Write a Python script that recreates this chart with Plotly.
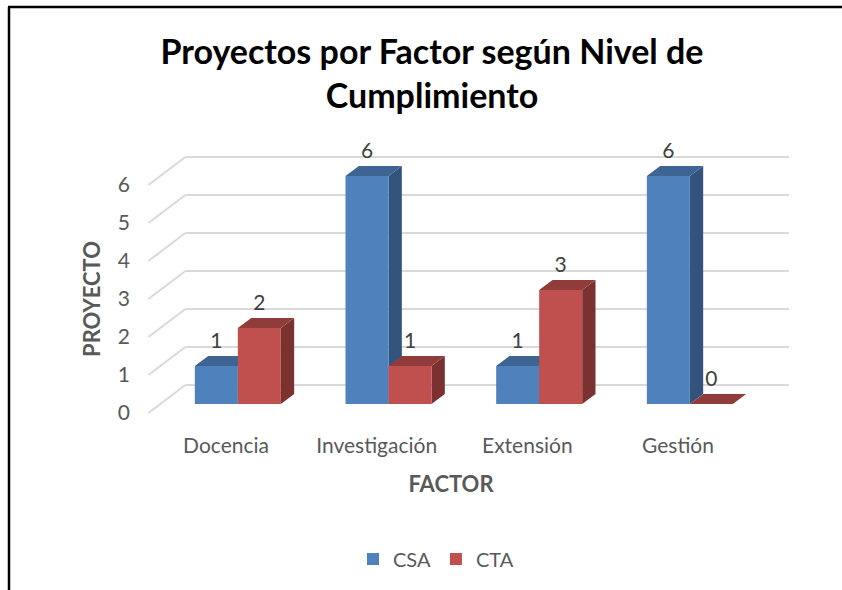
import plotly.graph_objects as go

# ---------------- data ----------------
categories = ["Docencia", "Investigación", "Extensión", "Gestión"]
series_names = ["CSA", "CTA"]
csa_values = [1, 6, 1, 6]
cta_values = [2, 1, 3, 0]
y_tick_values = [0, 1, 2, 3, 4, 5, 6]

title_text = "Proyectos por Factor según Nivel de<br>Cumplimiento"
x_title = "FACTOR"
y_title = "PROYECTO"

# ---------------- styling / layout constants ----------------
FONT = "Lato, Carlito, Calibri, 'Noto Sans', sans-serif"
W, H = 842, 590
L, R, T, B = 112, 790, 140, 458            # plot area in px
X_PX0, X_PX_PER = 226.0, 150.67            # px of category 0 on the front plane, px per category
Y_PX0, Y_PX_PER = 413.0, 38.0              # px of value 0 on the front plane, px per unit

x_range = [(L - X_PX0) / X_PX_PER, (R - X_PX0) / X_PX_PER]
y_range = [(Y_PX0 - B) / Y_PX_PER, (Y_PX0 - T) / Y_PX_PER]

# oblique projection of the depth axis (full floor depth)
DX = 37.0 / X_PX_PER
DY = 28.0 / Y_PX_PER
D_FRONT, D_BACK = 0.32, 0.68               # depth of bar front/back faces
BAR_W = 43.0 / X_PX_PER
FLOOR_L, FLOOR_R = -0.515, 3.49
LABEL_GAP = 13.0 / Y_PX_PER

front_colors = ["#4F81BD", "#C0504D"]
top_colors = ["#3D6492", "#903C3A"]
side_colors = ["#33537D", "#7B312F"]
grid_color = "#D9D9D9"
text_gray = "#595959"

series_values = [csa_values, cta_values]

def px_to_paper_x(px):
    return (px - L) / (R - L)

def px_to_paper_y(py):
    return (B - py) / (B - T)

fig = go.Figure()

sx = DX * D_FRONT
sy = DY * D_FRONT
ddx = DX * (D_BACK - D_FRONT)
ddy = DY * (D_BACK - D_FRONT)

# front faces as bars
for s, (name, vals) in enumerate(zip(series_names, series_values)):
    fig.add_trace(go.Bar(
        name=name,
        x=[i + sx for i in range(len(categories))],
        y=vals,
        base=[sy] * len(vals),
        width=BAR_W,
        offset=(s - 1) * BAR_W,
        marker=dict(color=front_colors[s], line=dict(width=0)),
        hovertext=categories,
    ))

shapes = []
# back wall grid + left wall diagonals
for v in y_tick_values:
    shapes.append(dict(type="line", xref="x", yref="y", layer="below",
                       x0=FLOOR_L + DX, y0=v + DY, x1=FLOOR_R + DX, y1=v + DY,
                       line=dict(color=grid_color, width=2)))
    shapes.append(dict(type="line", xref="x", yref="y", layer="below",
                       x0=FLOOR_L, y0=v, x1=FLOOR_L + DX, y1=v + DY,
                       line=dict(color=grid_color, width=2)))

def poly(pts):
    return "M " + " L ".join(f"{x},{y}" for x, y in pts) + " Z"

# side and top faces
label_x, label_y, label_t = [], [], []
for i in range(len(categories)):
    for s, vals in enumerate(series_values):
        v = vals[i]
        x0 = i + sx + (s - 1) * BAR_W
        x1 = x0 + BAR_W
        yb = sy
        yt = sy + v
        if v > 0:
            shapes.append(dict(type="path", xref="x", yref="y", layer="below",
                               path=poly([(x1, yb), (x1, yt), (x1 + ddx, yt + ddy), (x1 + ddx, yb + ddy)]),
                               fillcolor=side_colors[s], line=dict(width=0)))
        shapes.append(dict(type="path", xref="x", yref="y", layer="below",
                           path=poly([(x0, yt), (x1, yt), (x1 + ddx, yt + ddy), (x0 + ddx, yt + ddy)]),
                           fillcolor=top_colors[s], line=dict(width=0)))
        label_x.append((x0 + x1) / 2)
        label_y.append(yt + ddy + LABEL_GAP)
        label_t.append(str(v))

fig.add_trace(go.Scatter(
    x=label_x, y=label_y, text=label_t, mode="text",
    textposition="middle center",
    textfont=dict(family=FONT, size=21, color="#404040"),
    showlegend=False, hoverinfo="skip", cliponaxis=False,
))

# outer frame (left and top edges)
shapes.append(dict(type="line", xref="paper", yref="paper", layer="above",
                   x0=px_to_paper_x(9), y0=px_to_paper_y(H),
                   x1=px_to_paper_x(9), y1=px_to_paper_y(7),
                   line=dict(color="black", width=2.5)))
shapes.append(dict(type="line", xref="paper", yref="paper", layer="above",
                   x0=px_to_paper_x(8), y0=px_to_paper_y(7),
                   x1=px_to_paper_x(W), y1=px_to_paper_y(7),
                   line=dict(color="black", width=2.5)))

fig.update_layout(
    width=W, height=H,
    margin=dict(l=L, r=W - R, t=T, b=H - B, pad=0),
    paper_bgcolor="white", plot_bgcolor="white",
    barmode="overlay",
    shapes=shapes,
    title=dict(text=f"<b>{title_text}</b>", x=432 / W, xanchor="center",
               y=1 - 64 / H, yanchor="middle",
               font=dict(family=FONT, size=34, color="black")),
    font=dict(family=FONT, size=20, color=text_gray),
    xaxis=dict(range=x_range, tickvals=list(range(len(categories))), ticktext=categories,
               showgrid=False, zeroline=False, showline=False, ticks="",
               anchor="free", position=px_to_paper_y(425), ticklabelstandoff=6,
               tickfont=dict(family=FONT, size=21, color=text_gray),
               title=dict(text=f"<b>{x_title}</b>", standoff=20,
                          font=dict(family=FONT, size=22, color=text_gray))),
    yaxis=dict(range=y_range, tickvals=y_tick_values,
               showgrid=False, zeroline=False, showline=False, ticks="",
               anchor="free", position=px_to_paper_x(140), ticklabelstandoff=10,
               tickfont=dict(family=FONT, size=21, color=text_gray),
               title=dict(text=f"<b>{y_title}</b>", standoff=10,
                          font=dict(family=FONT, size=22, color=text_gray))),
    legend=dict(orientation="h", x=px_to_paper_x(436), xanchor="center",
                y=px_to_paper_y(559), yanchor="middle",
                font=dict(family=FONT, size=20, color=text_gray),
                itemclick=False),
    showlegend=True,
)

fig.write_html("out.html",
               config={"displayModeBar": False},
               post_script="document.body.style.margin='0px';document.body.style.overflow='hidden';")
